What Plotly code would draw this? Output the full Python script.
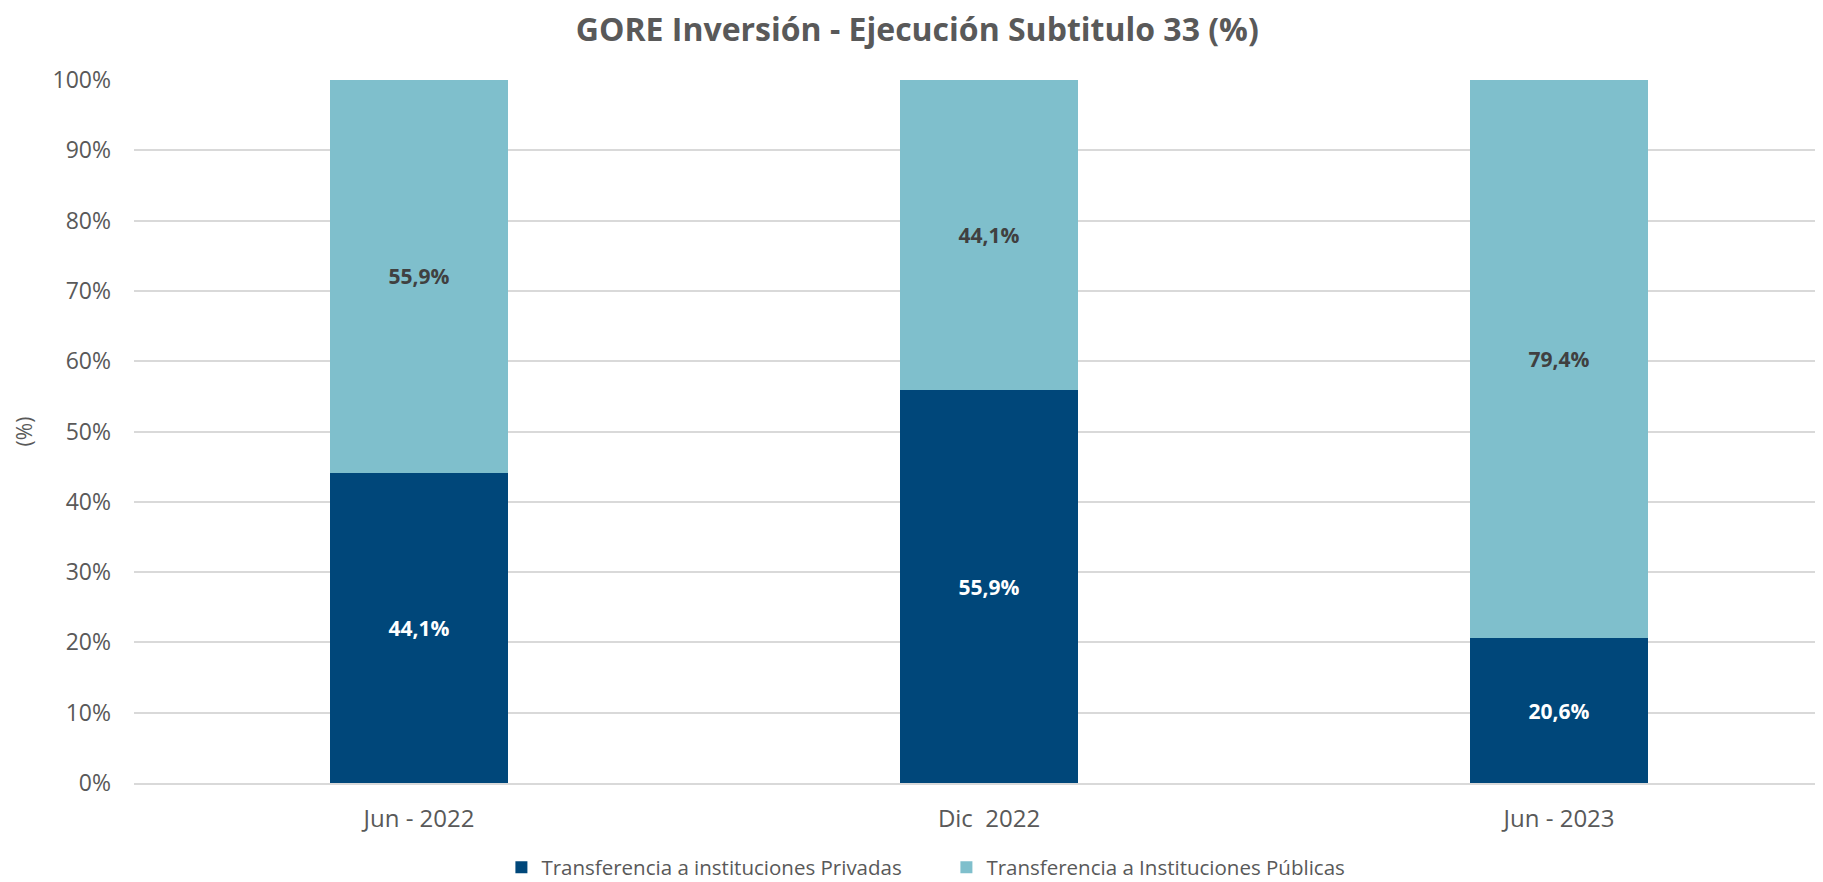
import plotly.graph_objects as go

categories = ["Jun - 2022", "Dic  2022", "Jun - 2023"]
privadas = [44.1, 55.9, 20.6]
publicas = [55.9, 44.1, 79.4]
series_names = ["Transferencia a instituciones Privadas", "Transferencia a Instituciones Públicas"]
y_ticks = [0, 10, 20, 30, 40, 50, 60, 70, 80, 90, 100]
y_tick_labels = [f"{v}%" for v in y_ticks]

FONT = "Open Sans"

def fmt(v):
    return f"{v:.1f}".replace(".", ",") + "%"

fig = go.Figure()
fig.add_trace(go.Bar(
    x=categories, y=privadas, name=series_names[0],
    marker=dict(color="#00477A", line=dict(width=0)),
    text=[fmt(v) for v in privadas], textposition="inside",
    insidetextanchor="middle", textangle=0,
    textfont=dict(family=FONT, size=21, color="white", weight="bold"),
    width=0.312,
))
fig.add_trace(go.Bar(
    x=categories, y=publicas, name=series_names[1],
    marker=dict(color="#7FBFCC", line=dict(width=0)),
    text=[fmt(v) for v in publicas], textposition="inside",
    insidetextanchor="middle", textangle=0,
    textfont=dict(family=FONT, size=21, color="#404040", weight="bold"),
    width=0.312,
))

fig.update_layout(
    barmode="stack",
    width=1815, height=874,
    paper_bgcolor="white", plot_bgcolor="white",
    margin=dict(l=126, r=0, t=72, b=99, autoexpand=False),
    uniformtext=dict(mode=False),
    title=dict(text="<b>GORE Inversión - Ejecución Subtitulo 33 (%)</b>",
               x=0.501, xref="container", xanchor="center",
               y=0.988, yref="container", yanchor="top",
               font=dict(family=FONT, size=32, color="#595959")),
    font=dict(family=FONT, color="#595959"),
    legend=dict(orientation="h", x=0.481, xanchor="center", y=-0.12, yanchor="middle",
                font=dict(family=FONT, size=20.5, color="#595959"),
                itemwidth=30, entrywidth=400, entrywidthmode="pixels",
                traceorder="normal"),
    xaxis=dict(range=[-0.5, 2.463], showgrid=False, showline=True, linecolor="#D9D9D9",
               linewidth=2, ticks="", automargin=False,
               tickfont=dict(family=FONT, size=24, color="#595959"),
               ticklabelstandoff=13),
    yaxis=dict(range=[0, 100], tickvals=y_ticks, ticktext=y_tick_labels,
               showgrid=True, gridcolor="#D9D9D9", gridwidth=1.5, zeroline=False,
               automargin=False,
               tickfont=dict(family=FONT, size=23, color="#595959"),
               ticklabelstandoff=22,
               title=dict(text="(%)", font=dict(family=FONT, size=21, color="#595959"),
                          standoff=14)),
)

fig.write_html("out.html")
